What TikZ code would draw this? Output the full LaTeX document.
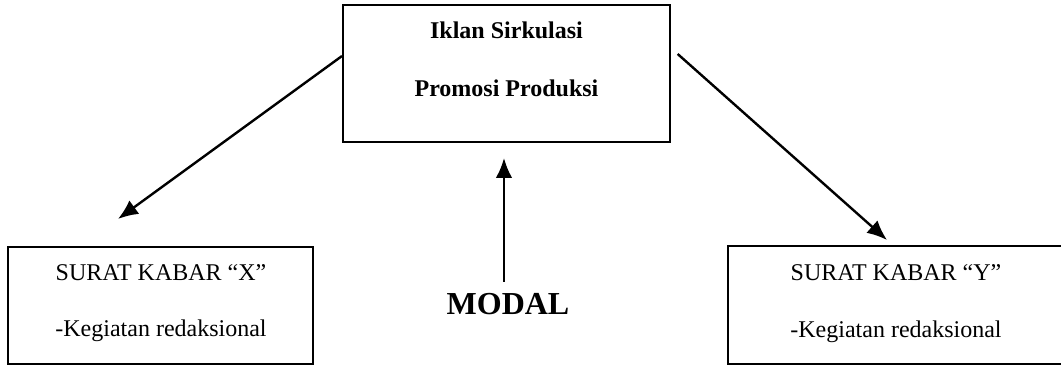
\documentclass[tikz,border=0pt]{standalone}
\usepackage{fontspec}
\setmainfont{Liberation Serif}
\usetikzlibrary{arrows.meta}
\begin{document}
\begin{tikzpicture}[x=0.75pt,y=-0.75pt,
  box/.style={draw,line width=1.5pt,rectangle,inner sep=0pt},
  lbl/.style={anchor=base,inner sep=0pt,font=\fontsize{18}{20}\selectfont},
  blbl/.style={lbl,font=\fontsize{18}{20}\selectfont\bfseries},
  arr/.style={line width=1.8pt,-{Latex[length=15pt,width=12.5pt]}}]
\useasboundingbox (0,0) rectangle (1061,366);
\begin{scope}
\clip (0,0) rectangle (1061,366);
% boxes
\node[box,minimum width=245.25pt,minimum height=102.75pt] (top) at (506.5,73.5) {};
\node[box,minimum width=228.75pt,minimum height=87.75pt] (lbox) at (160.5,305.5) {};
\node[box,minimum width=285pt,minimum height=88.5pt] (rbox) at (918,305) {};
\end{scope}
% texts
\node[blbl] (t1) at (506.5,39) {Iklan Sirkulasi};
\node[blbl] (t2) at (506.5,97) {Promosi Produksi};
\node[lbl] (l1) at (161,281) {SURAT KABAR “X”};
\node[lbl] (l2) at (161,337) {-Kegiatan redaksional};
\node[lbl] (r1) at (896,281) {SURAT KABAR “Y”};
\node[lbl] (r2) at (896,338) {-Kegiatan redaksional};
\node[anchor=base,inner sep=0pt,font=\fontsize{24}{26}\selectfont\bfseries] (modal) at (508,315) {MODAL};
% arrow ends
\coordinate (ltip) at (118,219);
\coordinate (rtip) at (887,240);
\coordinate (mtip) at (504,158);
% arrows
\draw[arr] ([yshift=-39pt]top.north west) -- (ltip);
\draw[arr] ([xshift=5pt,yshift=-37.5pt]top.north east) -- (rtip);
\draw[arr] ([yshift=9pt]modal.north -| mtip) -- (mtip);
\end{tikzpicture}
\end{document}
